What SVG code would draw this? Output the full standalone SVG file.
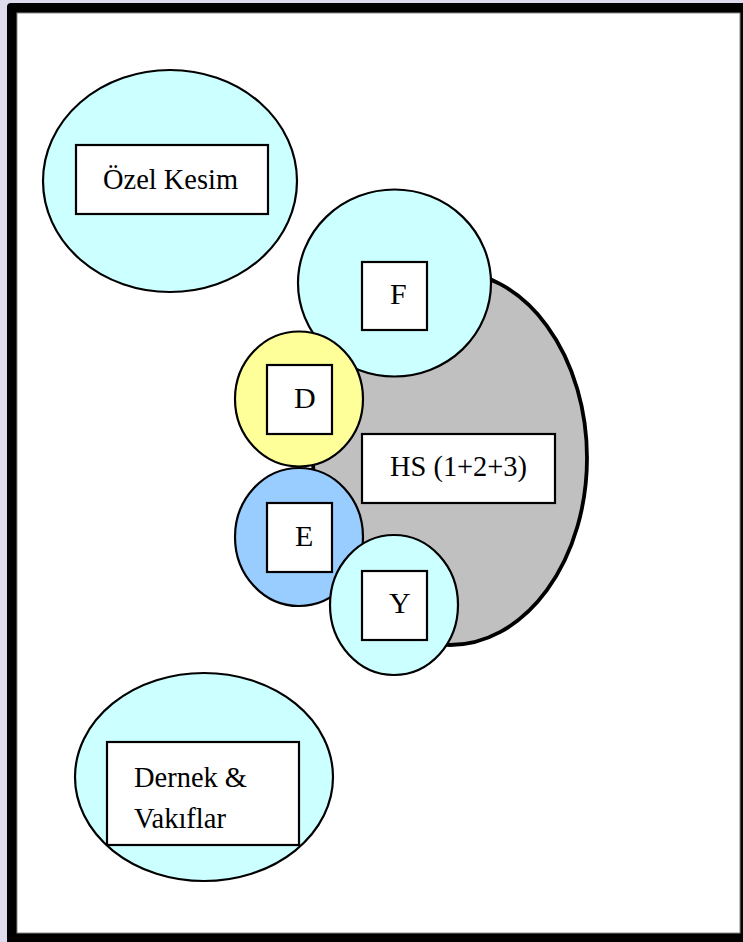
<svg xmlns="http://www.w3.org/2000/svg" width="743" height="942" viewBox="0 0 743 942">
<style>
.c{stroke:#000;stroke-width:2.2}
.b{fill:#fff;stroke:#000;stroke-width:2.2}
.t{font-family:"Liberation Serif","Times New Roman",serif;font-size:30px;fill:#000}
</style>
<rect x="0" y="0" width="743" height="942" fill="#dcdcee"/>
<g id="frame">
<rect x="7" y="3" width="760" height="960" rx="4" fill="#000"/>
<rect x="17" y="13" width="723" height="920" fill="#fff" stroke="#888" stroke-width="1"/>
</g>
<g id="connectors"></g>
<g id="hs-ellipse">
<ellipse cx="450" cy="458" rx="137" ry="187" fill="#c0c0c0" stroke="#000" stroke-width="3.8"/>
</g>
<g id="ozel-kesim">
<ellipse class="c" cx="170" cy="181" rx="127" ry="111" fill="#ccffff"/>
<rect class="b" x="76" y="145" width="192" height="69"/>
<text class="t" x="103" y="189" textLength="135" lengthAdjust="spacingAndGlyphs">Özel Kesim</text>
</g>
<g id="dernek">
<ellipse class="c" cx="204" cy="777" rx="129" ry="104" fill="#ccffff"/>
<rect class="b" x="107" y="742" width="192" height="103"/>
<text class="t" x="134" y="787" textLength="113" lengthAdjust="spacingAndGlyphs">Dernek &amp;</text>
<text class="t" x="134" y="828" textLength="92" lengthAdjust="spacingAndGlyphs">Vakıflar</text>
</g>
<g id="F">
<ellipse class="c" cx="394.5" cy="283" rx="96.5" ry="93.5" fill="#ccffff"/>
<rect class="b" x="362" y="262" width="65" height="68"/>
<text class="t" x="390" y="304">F</text>
</g>
<g id="D">
<ellipse class="c" cx="299" cy="399" rx="64" ry="67.5" fill="#ffff99"/>
<rect class="b" x="267" y="365" width="65" height="69"/>
<text class="t" x="294" y="408">D</text>
</g>
<g id="E">
<ellipse class="c" cx="299" cy="537" rx="64" ry="69" fill="#99ccff"/>
<rect class="b" x="267" y="503" width="65" height="69"/>
<text class="t" x="295" y="546">E</text>
</g>
<g id="Y">
<ellipse class="c" cx="394" cy="605" rx="64" ry="70" fill="#ccffff"/>
<rect class="b" x="362" y="571" width="65" height="69"/>
<text class="t" x="389" y="613">Y</text>
</g>
<g id="HS">
<rect class="b" x="362" y="434" width="193" height="69"/>
<text class="t" x="390" y="476" textLength="137" lengthAdjust="spacingAndGlyphs">HS (1+2+3)</text>
</g>
</svg>
